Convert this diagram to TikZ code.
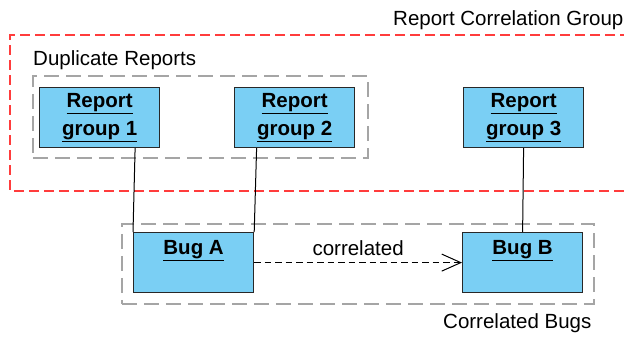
\documentclass[tikz,border=0pt]{standalone}
\usepackage{fontspec}
\setmainfont{Liberation Sans}
\usetikzlibrary{arrows.meta}
\definecolor{boxblue}{RGB}{122,207,244}
\definecolor{grpred}{RGB}{255,60,60}
\definecolor{grpgray}{RGB}{165,165,165}
\definecolor{boxedge}{RGB}{40,40,40}
\newcommand{\diafont}{\fontsize{20.5bp}{28bp}\selectfont}
\tikzset{
  entity/.style={draw=boxedge, line width=1.2bp, fill=boxblue, minimum width=120bp, minimum height=60bp,
    inner sep=0pt, align=center, font=\diafont\bfseries},
  redgroup/.style={draw=grpred, line width=1.5bp, dash pattern=on 10bp off 5bp},
  graygroup/.style={draw=grpgray, line width=1.8bp, dash pattern=on 15bp off 7bp},
  link/.style={draw=black, line width=1bp},
  dep/.style={draw=black, line width=1bp, dash pattern=on 6.5bp off 4bp,
    -{Straight Barb[length=19bp, width=17bp, line width=1bp]}},
  grouplabel/.style={inner sep=0pt, anchor=base west}
}
\newcommand{\ul}[1]{\underline{#1}}
\begin{document}
\begin{tikzpicture}[x=1bp, y=-1bp, font=\diafont]
\useasboundingbox (0,0) rectangle (624,336);
% red correlation group (runs off the right edge)
\coordinate (rtr) at (630,35);
\coordinate (rtl) at (10,35);
\coordinate (rbl) at (10,191);
\coordinate (rbr) at (630,191);
\draw[redgroup] (rtr) -- (rtl) -- (rbl) -- (rbr);
\node[grouplabel] (rcg) at (393,25) {Report Correlation Group};
% duplicate reports group
\node[graygroup, minimum width=335bp, minimum height=82bp, anchor=north west, inner sep=0pt] (dupbox) at (32,75) {};
\node[grouplabel] (duplbl) at (33,65) {Duplicate Reports};
% correlated bugs group
\node[graygroup, minimum width=472bp, minimum height=80bp, anchor=north west, inner sep=0pt] (corbox) at (121,223) {};
\node[grouplabel] (corlbl) at (443,328) {Correlated Bugs};
% entities
\node[entity, anchor=north west] (rg1) at (39,87) {\ul{Report}\\\ul{group 1}};
\node[entity, anchor=north west] (rg2) at (234,87) {\ul{Report}\\\ul{group 2}};
\node[entity, anchor=north west] (rg3) at (463,87) {\ul{Report}\\\ul{group 3}};
\node[entity, anchor=north west] (bugA) at (133,232) {\ul{Bug A}\\[-6bp]\strut};
\node[entity, anchor=north west] (bugB) at (462,232) {\ul{Bug B}\\[-6bp]\strut};
% links
\draw[link] ([xshift=35.5bp]rg1.south) -- (bugA.north west);
\draw[link] ([xshift=-38bp]rg2.south) -- (bugA.north east);
\draw[link] (rg3.south) -- (bugB.north);
\draw[dep] (bugA.east) -- node[above=6bp, inner sep=0pt] (corr) {correlated} (bugB.west);
\end{tikzpicture}
\end{document}
